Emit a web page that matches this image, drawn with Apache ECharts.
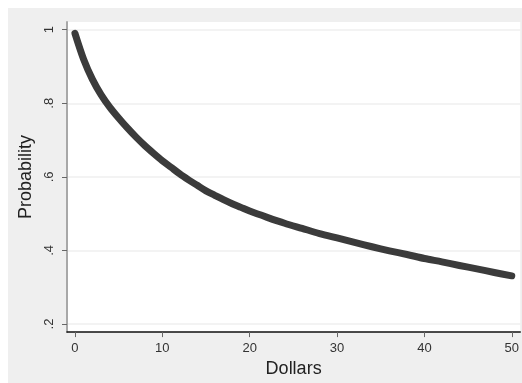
<!DOCTYPE html>
<html>
<head>
<meta charset="utf-8">
<style>
  html, body { margin: 0; padding: 0; background: #ffffff; }
  #chart { width: 522px; height: 383px; }
</style>
<script src="https://cdn.jsdelivr.net/npm/echarts@6/dist/echarts.min.js"></script>
</head>
<body>
<div id="chart"></div>
<script>
// Dollar amounts and the probability at each amount
const dollars = [0, 1, 2, 3, 4, 5, 6, 7, 8, 9, 10, 11, 12, 13, 14, 15, 16, 17, 18, 19, 20,
  22, 24, 26, 28, 30, 32, 34, 36, 38, 40, 42, 44, 46, 48, 50];
const probability = [0.990, 0.919, 0.865, 0.823, 0.789, 0.760, 0.733, 0.708, 0.685, 0.664, 0.644,
  0.626, 0.608, 0.592, 0.577, 0.562, 0.550, 0.538, 0.527, 0.517, 0.507,
  0.490, 0.474, 0.460, 0.446, 0.434, 0.422, 0.410, 0.399, 0.389, 0.378,
  0.369, 0.359, 0.350, 0.340, 0.331];

// Tick positions and their labels
const xTicks = [0, 10, 20, 30, 40, 50];
const yTicks = [0.2, 0.4, 0.6, 0.8, 1];
const yTickText = ['.2', '.4', '.6', '.8', '1'];

const chart = echarts.init(document.getElementById('chart'), null, { renderer: 'canvas' });

const fontFamily = '"Liberation Sans", Arial, sans-serif';

chart.setOption({
  animation: false,
  backgroundColor: '#ffffff',
  graphic: [{
    type: 'rect',
    z: -10,
    silent: true,
    shape: { x: 8, y: 8, width: 514, height: 375 },
    style: { fill: '#efefef' }
  }],
  grid: {
    left: 67, top: 22, right: 0, bottom: 50,
    show: true, backgroundColor: '#ffffff', borderWidth: 0
  },
  xAxis: {
    type: 'value',
    min: -0.91, max: 50.97,
    name: 'Dollars',
    nameLocation: 'middle',
    nameGap: 23,
    nameTextStyle: { fontFamily, fontSize: 18, color: '#222222' },
    axisLine: { show: true, onZero: false, lineStyle: { color: '#111111', width: 1.5 } },
    axisTick: { show: true, customValues: xTicks, length: 5, lineStyle: { color: '#666666', width: 1 } },
    axisLabel: { customValues: xTicks, margin: 10, fontFamily, fontSize: 13, color: '#333333' },
    splitLine: { show: false }
  },
  yAxis: {
    type: 'value',
    min: 0.178, max: 1.021,
    name: 'Probability',
    nameLocation: 'middle',
    nameGap: 30,
    nameRotate: 90,
    nameTextStyle: { fontFamily, fontSize: 18, color: '#222222' },
    axisLine: { show: true, onZero: false, lineStyle: { color: '#a8a8a8', width: 2 } },
    axisTick: { show: true, customValues: yTicks, length: 5, lineStyle: { color: '#666666', width: 1 } },
    axisLabel: {
      customValues: yTicks,
      rotate: 90,
      margin: 11,
      fontFamily, fontSize: 13, color: '#333333',
      formatter: function (v) {
        const i = yTicks.findIndex(t => Math.abs(t - v) < 1e-6);
        return i >= 0 ? yTickText[i] : '';
      }
    },
    splitLine: { show: true, lineStyle: { color: '#efefef', width: 1.5 } }
  },
  series: [{
    type: 'line',
    data: dollars.map((d, i) => [d, probability[i]]),
    smooth: 0.3,
    showSymbol: false,
    lineStyle: { color: '#3b3b3b', width: 7, cap: 'round', join: 'round' }
  }]
});
</script>
</body>
</html>
